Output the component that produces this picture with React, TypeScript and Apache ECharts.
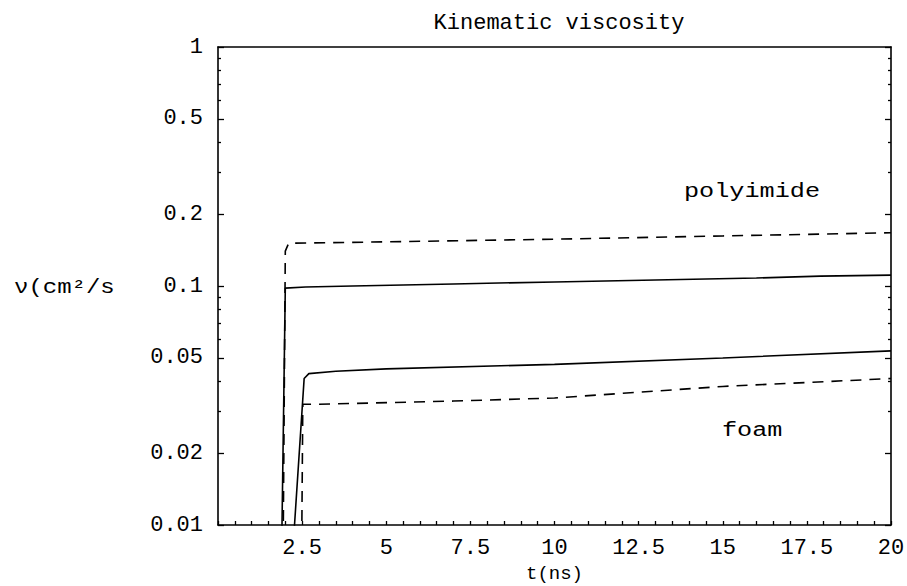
import React, { useEffect, useRef } from "react";
import * as echarts from "echarts";

const polyimideSolidT = [1.88, 2.0, 2.6, 4, 7, 10, 13, 16, 17.9, 20];
const polyimideSolidV = [0.006, 0.098, 0.099, 0.1, 0.102, 0.104, 0.106, 0.108, 0.11, 0.111];

const polyimideDashedT = [1.93, 2.0, 2.1, 5, 10, 15, 20];
const polyimideDashedV = [0.006, 0.14, 0.151, 0.153, 0.157, 0.162, 0.167];

const foamSolidT = [2.17, 2.56, 2.7, 3.5, 5, 10, 15, 20];
const foamSolidV = [0.006, 0.041, 0.043, 0.044, 0.045, 0.047, 0.05, 0.0535];

const foamDashedT = [2.48, 2.52, 3, 7, 10, 15, 20];
const foamDashedV = [0.006, 0.032, 0.032, 0.033, 0.034, 0.038, 0.041];

const yLabelValues = [0.01, 0.02, 0.05, 0.1, 0.2, 0.5, 1];
const yMinorValues = [0.03, 0.04, 0.06, 0.07, 0.08, 0.09, 0.3, 0.4, 0.6, 0.7, 0.8, 0.9];

const FONT = "Liberation Mono";

function zip(t: number[], v: number[]) {
  return t.map((x, i) => [x, v[i]]);
}

export default function App() {
  const ref = useRef<HTMLDivElement>(null);
  useEffect(() => {
    if (!ref.current) return;
    const chart = echarts.init(ref.current, undefined, { renderer: "svg" });
    const lineStyleSolid = { color: "#000", width: 1.6, type: "solid" as const };
    const lineStyleDashed = { color: "#000", width: 1.6, type: [11, 8] as any };
    const logAxisBase = {
      type: "log" as const,
      min: 0.01,
      max: 1,
      logBase: 10,
      splitLine: { show: false },
    };
    const labelFont = { fontFamily: FONT, fontSize: 22, color: "#000" };
    chart.setOption({
      animation: false,
      backgroundColor: "#fff",
      title: {
        text: "Kinematic viscosity",
        left: 554,
        textAlign: "center",
        top: 7,
        textStyle: { ...labelFont, fontWeight: "normal" },
      },
      grid: { left: 218, top: 47, right: 16, bottom: 61, outerBoundsMode: "none", containLabel: false },
      xAxis: [
        {
          type: "value",
          min: 0,
          max: 20,
          interval: 0.5,
          position: "bottom",
          name: "t(ns)",
          nameLocation: "middle",
          nameGap: 39,
          nameTextStyle: { fontFamily: FONT, fontSize: 19, color: "#000" },
          axisLine: { show: true, lineStyle: { color: "#000", width: 1.6 } },
          axisTick: { show: true, inside: true, length: 4, lineStyle: { color: "#000", width: 1.3 } },
          axisLabel: {
            interval: 0,
            margin: 12,
            ...labelFont,
            formatter: (v: number) =>
              v > 0 && Math.abs(v / 2.5 - Math.round(v / 2.5)) < 1e-9 ? String(v) : "",
          },
          splitLine: { show: false },
        },
        {
          type: "value",
          min: 0,
          max: 20,
          position: "top",
          axisLine: { show: true, lineStyle: { color: "#000", width: 1.6 } },
          axisTick: { show: false },
          axisLabel: { show: false },
          splitLine: { show: false },
        },
      ],
      yAxis: [
        {
          ...logAxisBase,
          position: "left",
          axisLine: { show: true, lineStyle: { color: "#000", width: 1.6 } },
          axisTick: {
            show: true,
            inside: true,
            length: 6,
            customValues: yLabelValues,
            lineStyle: { color: "#000", width: 1.3 },
          },
          axisLabel: {
            show: true,
            customValues: yLabelValues,
            margin: 15,
            ...labelFont,
            formatter: (v: number) => String(+v.toPrecision(3)),
          },
        },
        {
          ...logAxisBase,
          position: "left",
          axisLine: { show: false },
          axisTick: {
            show: true,
            inside: true,
            length: 3,
            customValues: yMinorValues,
            lineStyle: { color: "#000", width: 1.3 },
          },
          axisLabel: { show: false },
        },
        {
          ...logAxisBase,
          position: "right",
          axisLine: { show: true, lineStyle: { color: "#000", width: 1.6 } },
          axisTick: {
            show: true,
            inside: true,
            length: 6,
            customValues: yLabelValues,
            lineStyle: { color: "#000", width: 1.3 },
          },
          axisLabel: { show: false },
        },
        {
          ...logAxisBase,
          position: "right",
          axisLine: { show: false },
          axisTick: {
            show: true,
            inside: true,
            length: 3,
            customValues: yMinorValues,
            lineStyle: { color: "#000", width: 1.3 },
          },
          axisLabel: { show: false },
        },
      ],
      graphic: [
        {
          type: "text",
          x: 14,
          y: 288,
          scaleX: 1.2,
          style: { text: "ν(cm²/s", fontFamily: FONT, fontSize: 20, fill: "#000", verticalAlign: "middle" },
        },
        {
          type: "text",
          x: 684,
          y: 192,
          scaleX: 1.2,
          style: { text: "polyimide", fontFamily: FONT, fontSize: 21, fill: "#000", verticalAlign: "middle" },
        },
        {
          type: "text",
          x: 722,
          y: 431,
          scaleX: 1.2,
          style: { text: "foam", fontFamily: FONT, fontSize: 21, fill: "#000", verticalAlign: "middle" },
        },
      ],
      series: [
        {
          name: "polyimide (solid)",
          type: "line",
          xAxisIndex: 0,
          yAxisIndex: 0,
          data: zip(polyimideSolidT, polyimideSolidV),
          showSymbol: false,
          symbol: "none",
          clip: true,
          lineStyle: lineStyleSolid,
        },
        {
          name: "polyimide (dashed)",
          type: "line",
          xAxisIndex: 0,
          yAxisIndex: 0,
          data: zip(polyimideDashedT, polyimideDashedV),
          showSymbol: false,
          symbol: "none",
          clip: true,
          lineStyle: lineStyleDashed,
        },
        {
          name: "foam (solid)",
          type: "line",
          xAxisIndex: 0,
          yAxisIndex: 0,
          data: zip(foamSolidT, foamSolidV),
          showSymbol: false,
          symbol: "none",
          clip: true,
          lineStyle: lineStyleSolid,
        },
        {
          name: "foam (dashed)",
          type: "line",
          xAxisIndex: 0,
          yAxisIndex: 0,
          data: zip(foamDashedT, foamDashedV),
          showSymbol: false,
          symbol: "none",
          clip: true,
          lineStyle: lineStyleDashed,
        },
      ],
    });
    return () => chart.dispose();
  }, []);
  return <div ref={ref} style={{ width: 907, height: 586, position: "absolute", left: 0, top: 0 }} />;
}
